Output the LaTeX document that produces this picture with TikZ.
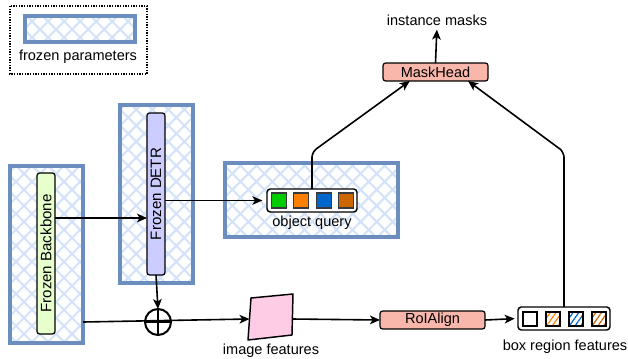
\documentclass[tikz,border=0pt]{standalone}
\usepackage{fontspec}
\setmainfont{Liberation Sans}
\usepackage{graphicx}
\usetikzlibrary{arrows.meta,patterns.meta,calc}
\definecolor{hatchline}{HTML}{D2E2F8}
\definecolor{frameblue}{HTML}{6C8EBF}
\definecolor{bbgreen}{HTML}{E6FFCC}
\definecolor{detrviolet}{HTML}{CCCCFF}
\definecolor{headred}{HTML}{F9B7AB}
\definecolor{featpink}{HTML}{FFCCE6}
\definecolor{qgreen}{HTML}{00CC00}
\definecolor{qorange}{HTML}{FF8000}
\definecolor{qblue}{HTML}{0066CC}
\definecolor{qbrown}{HTML}{CC6600}
\definecolor{sqedge}{HTML}{36393D}

\tikzset{
  wh/.style 2 args={minimum width=#1*0.75pt, minimum height=#2*0.75pt},
  frozen/.style={draw=frameblue, line width=2.3pt, inner sep=0pt, outer sep=0pt,
    pattern={Hatch[angle=45,distance=8.5pt,line width=1.5pt]}, pattern color=hatchline},
  sketch/.style={draw=frameblue, line width=1.1pt, opacity=0.75},
  bar/.style={draw=black, line width=0.9pt, rounded corners=2pt, inner sep=0pt, outer sep=0pt},
  headbox/.style={bar, fill=headred, wh={105}{18}},
  holder/.style={draw=black, line width=1.1pt, fill=white, rounded corners=2.5pt, inner sep=0pt, outer sep=0pt},
  qsq/.style={draw=sqedge, line width=0.8pt, fill=#1, wh={15}{15}, inner sep=0pt},
  fsq/.style={draw=black, line width=1.5pt, wh={14}{14}, inner sep=0pt,
    pattern={Lines[angle=55,distance=3.5pt,line width=0.9pt]}, pattern color=#1},
  lbl/.style={inner sep=0pt, font=\fontsize{10.9}{12}\selectfont},
  conn/.style={draw=black, line width=1.2pt},
  arr/.style={conn, -{Stealth[length=7.5pt,width=6.5pt,inset=2pt]}},
}

\begin{document}
\begin{tikzpicture}[x=0.75pt, y=-0.75pt, font=\fontsize{10.9}{12}\selectfont]
\useasboundingbox (0,0) rectangle (628,358);

% legend
\draw[line width=1.1pt, dash pattern=on 1pt off 1pt] (10,6) rectangle (147,74);
\node[frozen, wh={110}{26}] (legend) at (80,29) {};
\draw[sketch] ([shift={(1,-1.5)}]legend.north west) rectangle ([shift={(-1.5,1)}]legend.south east);
\node[lbl] (legendtext) at (78,57) {frozen parameters};

% frozen regions
\node[frozen, wh={73}{177}] (bbbox) at (46.5,254.5) {};
\draw[sketch] ([shift={(1.5,-1.5)}]bbbox.north west) rectangle ([shift={(-1,1.5)}]bbbox.south east);
\node[frozen, wh={73}{178}] (detrbox) at (156.5,194) {};
\draw[sketch] ([shift={(-1,-1.5)}]detrbox.north west) rectangle ([shift={(1.5,1)}]detrbox.south east);
\node[frozen, wh={173}{74}] (qbox) at (311.5,200) {};
\draw[sketch] ([shift={(1.5,1.5)}]qbox.north west) rectangle ([shift={(-1,-1.5)}]qbox.south east);

% backbone and DETR
\node[bar, fill=bbgreen, wh={18}{161}] (bb) at (46,253.5) {\rotatebox{90}{\fontsize{11.3}{12}\selectfont Frozen Backbone}};
\node[bar, fill=detrviolet, wh={18}{162}] (detr) at (156,194) {\rotatebox{90}{\fontsize{11.3}{12}\selectfont Frozen DETR}};

% object query
\node[holder, wh={90}{23}] (q) at (312,200.5) {};
\node[qsq=qgreen]  (q1) at (279,200.5) {};
\node[qsq=qorange] (q2) at (301,200.5) {};
\node[qsq=qblue]   (q3) at (324,200.5) {};
\node[qsq=qbrown]  (q4) at (346,200.5) {};
\node[lbl] (qtext) at (312,223) {object query};

% mask head
\node[headbox] (mask) at (435.5,72) {MaskHead};
\node[lbl] (masks) at (437,20) {instance masks};

% fusion
\node[circle, draw, line width=1.5pt, minimum size=19.5pt, inner sep=0pt, outer sep=0pt] (plus) at (158,322) {};

% image features
\coordinate (f1) at (251,298);
\coordinate (f2) at (293,294);
\coordinate (f3) at (292,335);
\coordinate (f4) at (248,340);
\coordinate (fin) at (249.5,319);
\coordinate (fout) at (292.5,319);
\draw[fill=featpink, line width=1.1pt, line join=round] (f1) -- (f2) -- (f3) -- (f4) -- cycle;
\node[lbl] (ftext) at (271,351) {image features};

% RoIAlign
\node[headbox] (roi) at (432.5,320) {RoIAlign};

% box region features
\node[holder, wh={92}{23}] (feat) at (564,318.5) {};
\node[draw=black, line width=1.5pt, wh={14}{14}, inner sep=0pt,
  path picture={\draw[qgreen, line width=0.9pt] ([shift={(3pt,-2pt)}]path picture bounding box.south west) -- ++(4pt,-4pt);}] (b1) at (529.5,318.5) {};
\node[fsq=qorange] (b2) at (552.5,318.5) {};
\node[fsq=qblue]   (b3) at (575.5,318.5) {};
\node[fsq=qbrown]  (b4) at (598.5,318.5) {};
\node[lbl] (btext) at (565,347) {box region features};

% connectors
\coordinate (r1) at (0,218);
\coordinate (bend) at (0,152);
\draw[arr] (bb.east |- r1) -- (detr.west |- r1);
\draw[arr, shorten >=3.5pt] (detr.east |- q.west) -- (q.west);
\draw[arr] (detr.south) -- (plus.north);
\draw[conn, line width=1.5pt] (plus.north) -- (plus.south);
\draw[conn, line width=1.5pt] (plus.west) -- (plus.east);
\draw[arr] (bbbox.east |- plus) -- (fin);
\draw[arr] (fout) -- (roi.west);
\draw[arr, shorten >=2.5pt] (roi.east) -- (feat.west);
\draw[arr, rounded corners=4pt] (q.north) -- (q.north |- bend) -- ($(mask.south)!0.49!(mask.south west)$);
\draw[arr, rounded corners=4pt] (feat.north) -- (feat.north |- bend) -- ($(mask.south)!0.62!(mask.south east)$);
\draw[arr, shorten >=3pt] (mask.north) -- (masks.south);
\end{tikzpicture}
\end{document}
